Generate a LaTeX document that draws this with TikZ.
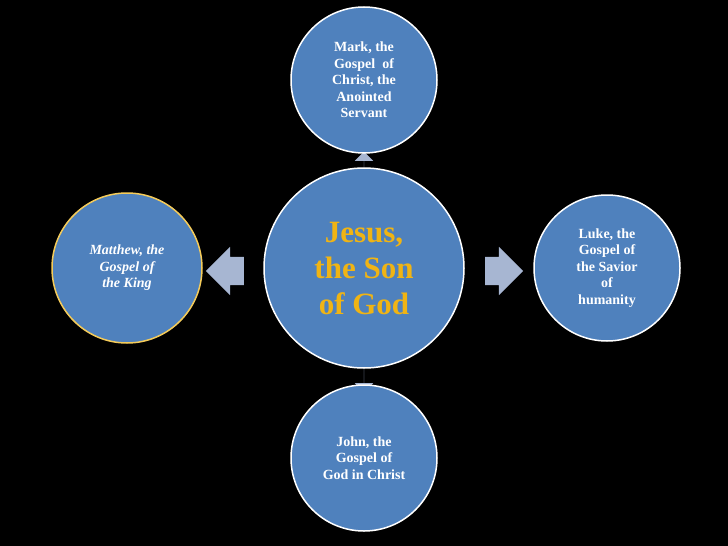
\documentclass[tikz,border=0pt]{standalone}
\usepackage{fontspec}
\setmainfont{Liberation Serif}
\usetikzlibrary{shapes.arrows,positioning}
\definecolor{gospelblue}{RGB}{79,129,189}
\definecolor{arrowgray}{RGB}{167,182,210}
\definecolor{jesusgold}{RGB}{240,180,20}
\tikzset{gospel/.style={circle,draw=white,line width=1.5pt,fill=gospelblue,text=white,
           font=\bfseries\fontsize{14}{16.5}\selectfont,align=center,minimum size=146pt,inner sep=2pt},
         pointer/.style={single arrow,fill=arrowgray,draw=none,single arrow head extend=9pt,
           inner xsep=0pt,inner ysep=14pt}}
\begin{document}
\begin{tikzpicture}[x=1pt,y=-1pt]
\fill[black] (0,0) rectangle (728,546);
\useasboundingbox (0,0) rectangle (728,546);
% arrows first, circles on top
\node (up) [pointer,shape border rotate=90,minimum height=20pt] at (364,166) {};
\node (down) [pointer,shape border rotate=270,minimum height=20pt] at (364,378) {};
\node (left) [pointer,shape border rotate=180,minimum height=38pt,single arrow head extend=10pt] at (232,271) {};
\node (right) [pointer,minimum height=38pt,single arrow head extend=10pt] at (497,271) {};
\node (Jesus) [gospel,minimum size=200pt,text=jesusgold,font=\bfseries\fontsize{31}{36}\selectfont] at (364,268) {Jesus,\\the Son\\of God};
\node (Mark) [gospel] at (364,80) {Mark, the\\Gospel\ \ of\\Christ, the\\Anointed\\Servant};
\node (Matthew) [gospel,draw=jesusgold!70!white,minimum size=150pt,font=\bfseries\itshape\fontsize{14}{16.5}\selectfont] at (127,268) {Matthew, the\\Gospel of\\the King};
\node (Luke) [gospel] at (607,268) {Luke, the\\Gospel of\\the Savior\\of\\humanity};
\node (John) [gospel] at (364,458) {John, the\\Gospel of\\God in Christ};
\end{tikzpicture}
\end{document}
